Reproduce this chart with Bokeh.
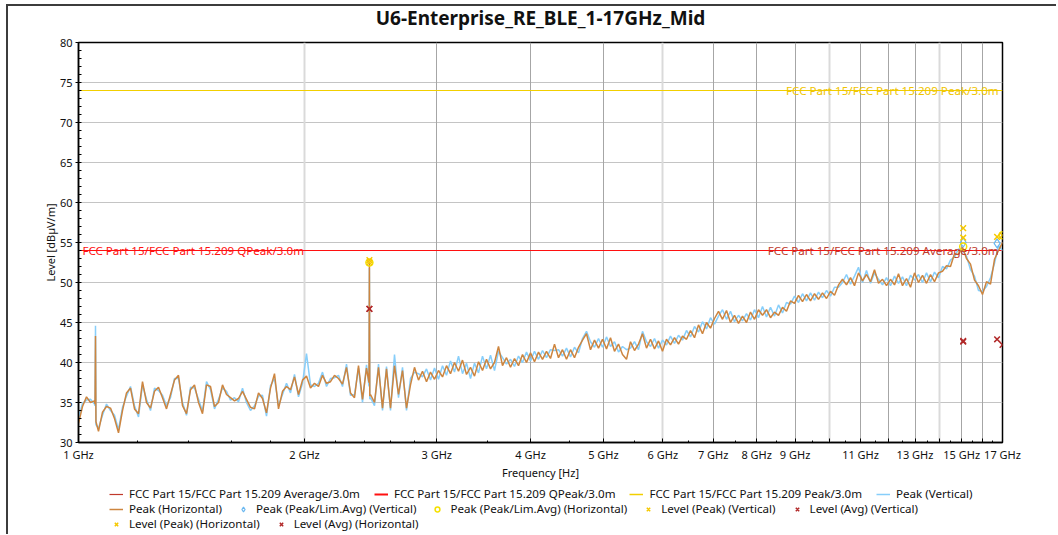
import numpy as np
from bokeh.plotting import figure
from bokeh.layouts import column
from bokeh.models import Range1d, FixedTicker, Label, Legend, LegendItem, Grid
from bokeh.embed import file_html
from bokeh.resources import INLINE

FONT = "Noto Sans"

title_text = "U6-Enterprise_RE_BLE_1-17GHz_Mid"
x_label = "Frequency [Hz]"
y_label = "Level [dB\u00b5V/m]"

freq_start = 1e9
freq_stop = 17e9
level_min = 30
level_max = 80

major_ghz = [1, 2, 3, 4, 5, 6, 7, 8, 9, 10, 11, 12, 13, 14, 15, 16, 17]
labeled_ghz = [1, 2, 3, 4, 5, 6, 7, 8, 9, 11, 13, 15, 17]
tick_labels = ["1 GHz", "2 GHz", "3 GHz", "4 GHz", "5 GHz", "6 GHz", "7 GHz", "8 GHz",
               "9 GHz", "11 GHz", "13 GHz", "15 GHz", "17 GHz"]
minor_ghz = [1.2, 1.4, 1.6, 1.8, 2.2, 2.4, 2.6, 2.8, 3.5, 4.5, 5.5, 6.5, 7.5, 8.5, 9.5,
             10.5, 11.5, 12.5, 13.5, 14.5, 15.5, 16.5]
light_grid_ghz = [2, 6, 10, 14]
dark_grid_ghz = [3, 4, 5, 7, 8, 9, 11, 12, 13, 15, 16]
y_ticks = [30, 35, 40, 45, 50, 55, 60, 65, 70, 75, 80]
y_minor = [v for v in range(31, 80) if v % 5 != 0]

limit_peak = 74.0
limit_avg = 54.0
limit_qpeak = 54.0
limit_peak_name = "FCC Part 15/FCC Part 15.209 Peak/3.0m"
limit_avg_name = "FCC Part 15/FCC Part 15.209 Average/3.0m"
limit_qpeak_name = "FCC Part 15/FCC Part 15.209 QPeak/3.0m"

n_points = 232
peak_h = [
    32.4, 34.5, 35.7, 35.0, 35.2, 31.4, 33.8, 34.5, 34.3, 33.0,
    31.2, 34.0, 36.2, 36.8, 34.2, 33.6, 37.6, 35.0, 34.3, 36.4,
    36.9, 35.6, 34.2, 36.0, 37.8, 38.4, 34.6, 33.6, 36.6, 37.2,
    35.0, 33.6, 37.2, 37.0, 34.5, 35.0, 37.2, 36.0, 35.6, 35.2,
    35.5, 36.4, 35.4, 34.4, 34.2, 36.2, 35.5, 33.7, 36.8, 38.6,
    34.2, 36.4, 37.0, 36.6, 38.2, 36.0, 37.8, 38.3, 36.8, 37.4,
    37.0, 38.4, 37.4, 37.6, 38.4, 38.0, 37.3, 39.4, 36.2, 35.6,
    39.6, 35.4, 39.3, 36.0, 35.0, 39.4, 34.3, 39.2, 34.3, 39.6,
    36.0, 39.0, 34.3, 37.2, 39.4, 37.8, 38.9, 37.6, 38.8, 37.9,
    39.0, 38.2, 39.6, 38.6, 40.0, 38.9, 40.3, 38.5, 39.4, 38.3,
    40.1, 39.0, 40.4, 39.2, 40.0, 42.0, 39.6, 40.6, 39.4, 40.5,
    39.6, 41.0, 40.0, 41.2, 40.1, 41.3, 40.4, 41.4, 40.5, 42.3,
    40.6, 41.6, 40.4, 41.6, 40.6, 41.9, 42.8, 43.6, 41.6, 42.8,
    41.8, 42.9, 41.7, 43.1, 41.4, 42.3, 41.0, 40.4, 42.6, 41.5,
    42.3, 43.6, 41.8, 42.9, 41.7, 42.7, 41.4, 42.9, 42.2, 43.1,
    42.3, 43.3, 42.9, 44.0, 43.1, 44.7, 43.6, 45.0, 44.3, 45.5,
    46.4, 45.4, 46.5, 45.0, 45.9, 44.9, 45.8, 45.0, 46.3, 45.4,
    46.6, 45.9, 46.6, 45.6, 46.3, 45.9, 46.9, 46.4, 47.7, 47.4,
    48.4, 47.6, 48.5, 47.7, 48.6, 47.9, 48.7, 48.0, 48.9, 48.4,
    49.7, 50.4, 49.7, 50.6, 49.6, 51.2, 50.2, 51.0, 50.1, 51.6,
    49.9, 50.4, 49.6, 50.4, 49.7, 51.1, 49.6, 50.5, 49.4, 51.2,
    50.0, 50.9, 49.9, 51.0, 50.1, 51.2, 51.4, 52.1, 52.0, 53.6,
    53.5, 54.4, 53.0, 52.3, 50.3, 49.6, 48.5, 50.1, 49.8, 52.9,
    54.0, 55.0,
]
peak_v = [
    33.0, 34.9, 35.3, 35.4, 34.8, 31.8, 33.4, 34.8, 34.0, 33.4,
    31.6, 34.4, 35.8, 37.0, 34.6, 33.2, 37.2, 35.4, 34.0, 36.8,
    36.5, 35.9, 34.6, 35.6, 38.0, 38.0, 35.0, 33.4, 36.9, 36.8,
    35.4, 33.9, 37.6, 36.6, 34.2, 35.4, 36.8, 36.4, 35.3, 35.6,
    35.1, 36.8, 35.0, 34.0, 34.6, 35.8, 35.9, 33.3, 37.1, 38.0,
    34.6, 36.0, 37.4, 36.2, 38.5, 35.7, 37.4, 41.1, 37.2, 37.0,
    37.4, 38.8, 37.0, 38.0, 38.1, 38.4, 37.0, 39.8, 35.9, 36.0,
    39.3, 35.0, 39.7, 35.6, 34.6, 39.8, 34.0, 39.5, 34.0, 41.0,
    35.6, 39.4, 34.0, 38.0, 38.8, 38.6, 38.2, 39.2, 37.8, 39.3,
    37.9, 39.6, 38.4, 40.2, 38.8, 40.8, 38.6, 39.9, 38.0, 39.9,
    38.7, 40.8, 39.2, 40.9, 39.0, 41.4, 40.6, 39.8, 40.4, 39.5,
    40.8, 40.0, 41.3, 40.2, 41.4, 40.4, 41.5, 40.6, 41.6, 41.5,
    41.6, 40.8, 41.8, 40.7, 41.9, 41.2, 43.0, 43.9, 42.6, 41.9,
    43.0, 41.9, 43.2, 42.0, 42.6, 41.3, 42.0, 41.6, 41.8, 42.6,
    41.6, 43.9, 42.6, 42.0, 43.0, 41.8, 42.8, 42.2, 43.3, 42.4,
    43.4, 42.8, 44.0, 43.2, 44.5, 43.8, 45.1, 44.2, 45.6, 44.8,
    45.8, 46.6, 45.4, 46.4, 45.1, 45.9, 45.2, 46.1, 45.3, 46.6,
    45.6, 47.0, 45.7, 46.9, 45.8, 47.2, 46.2, 47.5, 47.3, 48.3,
    47.5, 48.6, 47.7, 48.7, 47.8, 48.8, 48.1, 49.0, 48.3, 49.4,
    49.4, 50.0, 51.0, 49.8, 50.8, 51.9, 50.0, 51.5, 49.9, 51.2,
    50.4, 49.7, 50.6, 49.6, 50.8, 49.9, 50.7, 49.6, 50.9, 50.3,
    51.0, 50.0, 51.2, 50.1, 51.3, 50.6, 52.0, 51.7, 52.8, 53.2,
    54.2, 54.0, 53.3, 51.6, 50.8, 49.0, 48.9, 49.5, 50.6, 52.4,
    54.6, 54.0,
]
# narrow spikes (1.05 GHz and 2.44 GHz)
spike_freq = [1.052e9, 1.0535e9, 1.055e9, 2.437e9, 2.440e9, 2.443e9]
spike_h = [34.8, 43.3, 32.6, 37.5, 52.5, 35.8]
spike_v = [34.6, 44.6, 32.2, 37.0, 51.8, 35.4]

# final measurement markers
lvl_peak_v_f = [2.440e9, 15.07e9, 16.72e9]
lvl_peak_v = [52.8, 56.8, 55.7]
lvl_peak_h_f = [2.440e9, 15.07e9, 17.0e9]
lvl_peak_h = [52.5, 55.6, 55.9]
pk_lim_v_f = [15.07e9, 16.72e9]
pk_lim_v = [55.0, 54.9]
pk_lim_h_f = [2.440e9, 15.07e9, 17.0e9]
pk_lim_h = [52.5, 54.5, 55.9]
lvl_avg_v_f = [2.440e9, 15.07e9, 16.72e9]
lvl_avg_v = [46.7, 42.7, 42.9]
lvl_avg_h_f = [2.440e9, 15.07e9, 17.0e9]
lvl_avg_h = [46.7, 42.6, 42.2]

# colours
c_avg = "#c0392b"
c_qpeak = "#ff1010"
c_peak = "#f2cf00"
c_vert = "#87cefa"
c_horz = "#cd853f"
c_mark_peak = "#f5c800"
c_mark_avg = "#b22a2a"
c_diamond = "#6ab8f0"
c_circle = "#f5e000"

grid_f = np.geomspace(freq_start, freq_stop, n_points)
f_all = np.concatenate([grid_f, spike_freq])
order = np.argsort(f_all)
f_all = f_all[order]
h_all = np.concatenate([peak_h, spike_h])[order]
v_all = np.concatenate([peak_v, spike_v])[order]


def strip(height):
    f = figure(width=1048, height=height, x_range=Range1d(0, 1), y_range=Range1d(0, 1),
               output_backend="svg", toolbar_location=None,
               x_axis_location=None, y_axis_location=None,
               min_border_left=0, min_border_right=0, min_border_top=0, min_border_bottom=0)
    f.xgrid.visible = False
    f.ygrid.visible = False
    f.outline_line_alpha = 0
    f.background_fill_color = "white"
    f.border_fill_color = "white"
    return f


# title strip
t = strip(28)
t.add_layout(Label(x=0.5, y=0.6, text=title_text, text_align="center", text_baseline="middle",
                   text_font=FONT, text_font_size="19px", text_font_style="bold",
                   text_color="#111111"))

# main chart
p = figure(width=1048, height=448, x_axis_type="log",
           x_range=Range1d(freq_start, freq_stop), y_range=Range1d(level_min, level_max),
           output_backend="svg", toolbar_location=None,
           min_border_left=70, min_border_right=54, min_border_top=8, min_border_bottom=40)
p.background_fill_color = "white"
p.border_fill_color = "white"
p.outline_line_color = "black"
p.outline_line_width = 1.5

# grids
p.xgrid.visible = False
p.ygrid.ticker = FixedTicker(ticks=y_ticks)
p.ygrid.grid_line_color = "#c4c4c4"
p.ygrid.grid_line_width = 1
g_light = Grid(dimension=0, ticker=FixedTicker(ticks=[g * 1e9 for g in light_grid_ghz]),
               grid_line_color="#dadada", grid_line_width=2)
g_dark = Grid(dimension=0, ticker=FixedTicker(ticks=[g * 1e9 for g in dark_grid_ghz]),
              grid_line_color="#a6a6a6", grid_line_width=1)
p.add_layout(g_light)
p.add_layout(g_dark)

# axes
xa = p.xaxis[0]
xa.ticker = FixedTicker(ticks=[g * 1e9 for g in major_ghz], minor_ticks=[g * 1e9 for g in minor_ghz])
overrides = {g * 1e9: "" for g in major_ghz}
for g, lab in zip(labeled_ghz, tick_labels):
    overrides[g * 1e9] = lab
xa.major_label_overrides = overrides
xa.axis_label = x_label
ya = p.yaxis[0]
ya.ticker = FixedTicker(ticks=y_ticks, minor_ticks=y_minor)
ya.axis_label = y_label
for ax in (xa, ya):
    ax.axis_line_color = "black"
    ax.axis_line_width = 1.5
    ax.major_tick_line_color = "black"
    ax.minor_tick_line_color = "black"
    ax.major_label_text_font = FONT
    ax.major_label_text_font_size = "11px"
    ax.major_label_text_color = "#111111"
    ax.axis_label_text_font = FONT
    ax.axis_label_text_font_size = "11px"
    ax.axis_label_text_font_style = "normal"
    ax.axis_label_text_color = "#111111"
xa.major_tick_in = 4
xa.major_tick_out = 0
xa.minor_tick_in = 2
xa.minor_tick_out = 0
xa.major_label_standoff = 4
xa.axis_label_standoff = 0
ya.major_tick_in = 3
ya.major_tick_out = 3
ya.minor_tick_in = 3
ya.minor_tick_out = 0
ya.major_label_standoff = 3
ya.axis_label_standoff = -1

# limit lines
xr = [freq_start, freq_stop]
p.line(xr, [limit_avg, limit_avg], line_color=c_avg, line_width=1)
p.line(xr, [limit_qpeak, limit_qpeak], line_color=c_qpeak, line_width=1.2)
p.line(xr, [limit_peak, limit_peak], line_color=c_peak, line_width=1.2)

# traces
p.line(f_all, v_all, line_color=c_vert, line_width=1.5)
p.line(f_all, h_all, line_color=c_horz, line_width=1.5)

# markers
XS = 8
p.scatter(pk_lim_v_f, pk_lim_v, marker="diamond", size=9, fill_alpha=0, line_color=c_diamond, line_width=1.2)
p.scatter(pk_lim_h_f, pk_lim_h, marker="circle", size=7, fill_alpha=0, line_color=c_circle, line_width=1.5)
p.scatter(lvl_peak_v_f, lvl_peak_v, marker="x", size=XS, line_color=c_mark_peak, line_width=1.5)
p.scatter(lvl_peak_h_f, lvl_peak_h, marker="x", size=XS, line_color=c_mark_peak, line_width=1.5)
p.scatter(lvl_avg_v_f, lvl_avg_v, marker="x", size=XS, line_color=c_mark_avg, line_width=1.5)
p.scatter(lvl_avg_h_f, lvl_avg_h, marker="x", size=XS, line_color=c_mark_avg, line_width=1.5)

# limit labels
LBL = "11.6px"
p.add_layout(Label(x=16.8e9, y=limit_peak, text=limit_peak_name, text_align="right",
                   text_baseline="alphabetic", text_font=FONT, text_font_size=LBL,
                   text_color="#f0c400"))
p.add_layout(Label(x=16.8e9, y=limit_avg, text=limit_avg_name, text_align="right",
                   text_baseline="alphabetic", text_font=FONT, text_font_size=LBL,
                   text_color=c_avg))
p.add_layout(Label(x=1.012e9, y=limit_qpeak, text=limit_qpeak_name, text_align="left",
                   text_baseline="alphabetic", text_font=FONT, text_font_size=LBL,
                   text_color=c_qpeak))

# legend strip
q = strip(52)
# one off-range point each, only so that the legend can draw its sample glyph
e = dict(x=[-5], y=[-5])
k_avg = q.line(line_color=c_avg, line_width=1.2, **e)
k_qpk = q.line(line_color=c_qpeak, line_width=2, **e)
k_pk = q.line(line_color=c_peak, line_width=1.5, **e)
k_v = q.line(line_color=c_vert, line_width=1.5, **e)
k_h = q.line(line_color=c_horz, line_width=1.5, **e)
k_plv = q.scatter(marker="diamond", size=8, fill_alpha=0, line_color=c_diamond, line_width=1.2, **e)
k_plh = q.scatter(marker="circle", size=7, fill_alpha=0, line_color=c_circle, line_width=1.5, **e)
k_lpv = q.scatter(marker="x", size=7, line_color=c_mark_peak, line_width=1.5, **e)
k_lav = q.scatter(marker="x", size=7, line_color=c_mark_avg, line_width=1.5, **e)
k_lph = q.scatter(marker="x", size=7, line_color=c_mark_peak, line_width=1.5, **e)
k_lah = q.scatter(marker="x", size=7, line_color=c_mark_avg, line_width=1.5, **e)

rows = [
    [(limit_avg_name, k_avg), (limit_qpeak_name, k_qpk), (limit_peak_name, k_pk), ("Peak (Vertical)", k_v)],
    [("Peak (Horizontal)", k_h), ("Peak (Peak/Lim.Avg) (Vertical)", k_plv),
     ("Peak (Peak/Lim.Avg) (Horizontal)", k_plh), ("Level (Peak) (Vertical)", k_lpv),
     ("Level (Avg) (Vertical)", k_lav)],
    [("Level (Peak) (Horizontal)", k_lph), ("Level (Avg) (Horizontal)", k_lah)],
]
for k, items in enumerate(rows):
    lg = Legend(items=[LegendItem(label=l, renderers=[r]) for l, r in items],
                orientation="horizontal", location=(31, 33 - 15 * k),
                glyph_width=14, glyph_height=12, label_height=12, label_standoff=6,
                spacing=14, padding=0, margin=0, border_line_alpha=0,
                background_fill_alpha=0, label_text_font=FONT, label_text_font_size=LBL,
                label_text_color="#111111")
    q.add_layout(lg)

layout = column(t, p, q, spacing=0)
layout.styles = {"border-left": "2px solid #3c3c3c", "border-top": "2px solid #3c3c3c",
                 "margin-left": "6px", "margin-top": "4px"}

open("out.html", "w").write(file_html(layout, INLINE))
